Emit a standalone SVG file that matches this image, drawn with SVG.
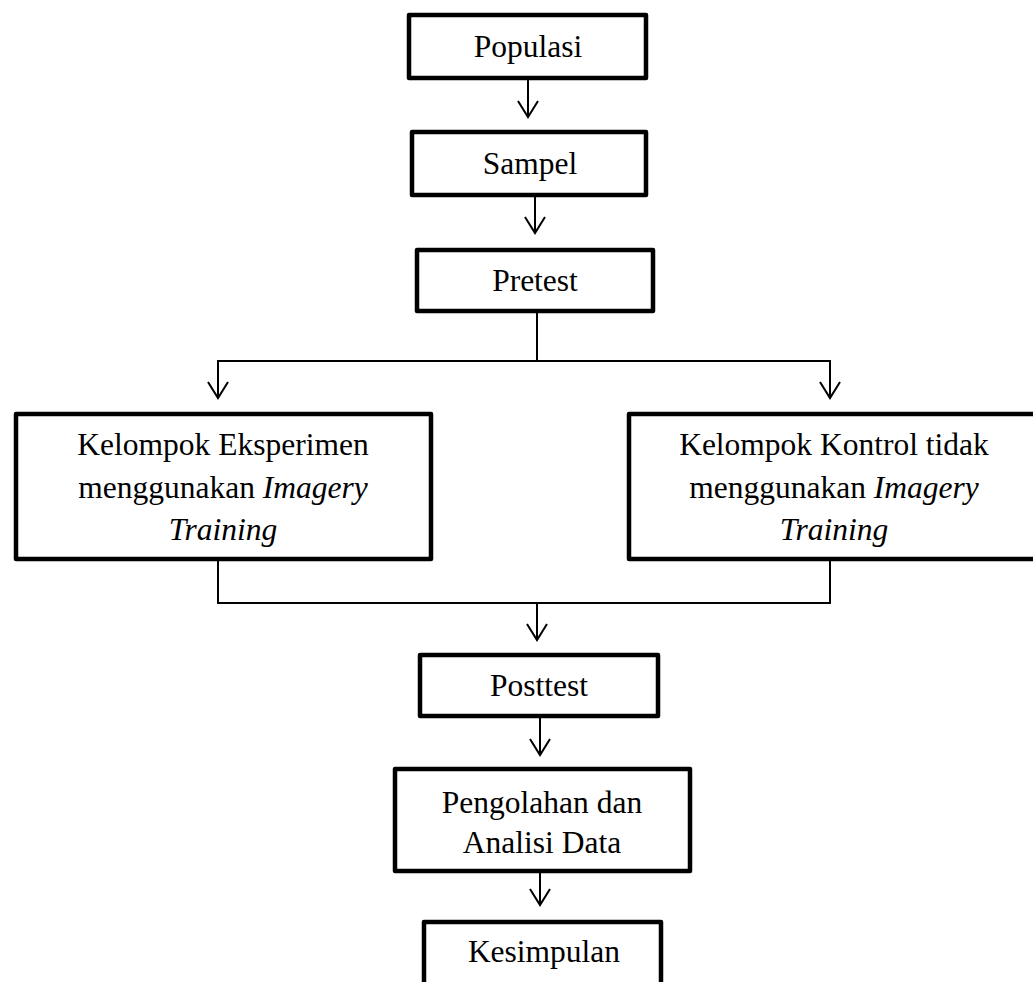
<svg xmlns="http://www.w3.org/2000/svg" width="1033" height="982" viewBox="0 0 1033 982">
<style>
.box{fill:#fff;stroke:#000;stroke-width:4.5;stroke-linejoin:round}
.t{font-family:"Liberation Serif","Times New Roman",serif;font-size:31.5px;fill:#000;text-anchor:middle}
.i{font-style:italic}
.c{fill:none;stroke:#000;stroke-width:2}
</style>
<rect width="1033" height="982" fill="#fff"/>
<g id="connectors">
<path class="c" d="M528 80V117M518 101L528 117L538 101"/>
<path class="c" d="M535 197V233M525 217L535 233L545 217"/>
<path class="c" d="M537 313V361M218 398V361H830V398"/>
<path class="c" d="M208 382L218 398L228 382M820 382L830 398L840 382"/>
<path class="c" d="M218 560V603H830V560M537 603V640M527 624L537 640L547 624"/>
<path class="c" d="M540 718V755M530 739L540 755L550 739"/>
<path class="c" d="M540 873V905M530 889L540 905L550 889"/>
</g>
<g id="populasi"><rect class="box" x="409" y="15" width="237" height="63"/><text class="t" x="528" y="57">Populasi</text></g>
<g id="sampel"><rect class="box" x="412" y="132" width="234" height="63"/><text class="t" x="530" y="174">Sampel</text></g>
<g id="pretest"><rect class="box" x="417" y="250" width="236" height="61"/><text class="t" x="535" y="291">Pretest</text></g>
<g id="eksperimen"><rect class="box" x="16" y="414" width="415" height="145"/>
<text class="t" x="223" y="455">Kelompok Eksperimen</text>
<text class="t" x="223" y="498">menggunakan <tspan class="i">Imagery</tspan></text>
<text class="t i" x="223" y="540">Training</text></g>
<g id="kontrol"><rect class="box" x="629" y="414" width="410" height="145"/>
<text class="t" x="834" y="455">Kelompok Kontrol tidak</text>
<text class="t" x="834" y="498">menggunakan <tspan class="i">Imagery</tspan></text>
<text class="t i" x="834" y="540">Training</text></g>
<g id="posttest"><rect class="box" x="420" y="655" width="238" height="61"/><text class="t" x="539" y="696">Posttest</text></g>
<g id="pengolahan"><rect class="box" x="395" y="769" width="295" height="102"/>
<text class="t" x="542" y="813">Pengolahan dan</text>
<text class="t" x="542" y="853">Analisi Data</text></g>
<g id="kesimpulan"><rect class="box" x="424" y="922" width="237" height="80"/><text class="t" x="544" y="962">Kesimpulan</text></g>
</svg>
